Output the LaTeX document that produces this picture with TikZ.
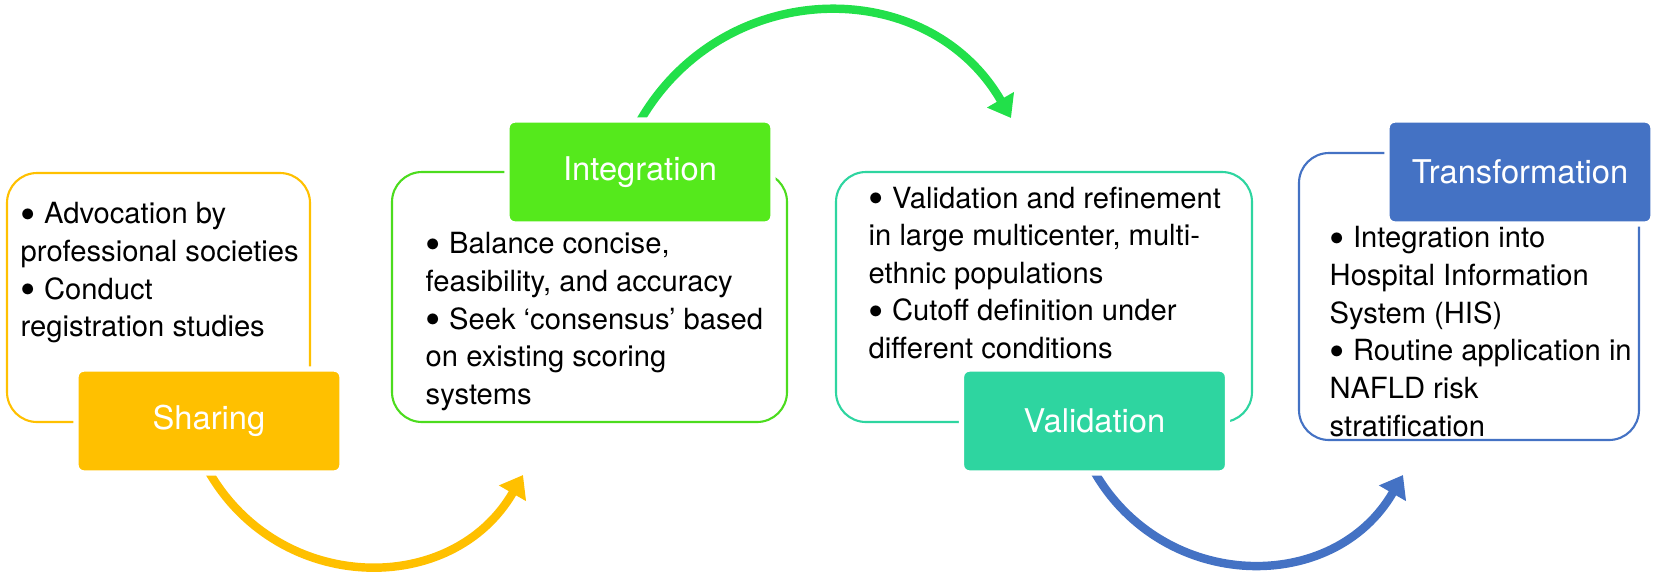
\documentclass[tikz,border=0pt]{standalone}
\usepackage{fontspec}
\usepackage{graphicx}
\setmainfont{TeX Gyre Heros}
\usetikzlibrary{arrows.meta}
\definecolor{sharecol}{HTML}{FFC000}
\definecolor{intcol}{HTML}{55E91C}
\definecolor{intline}{HTML}{4CDC1E}
\definecolor{arcgreen}{HTML}{22E04A}
\definecolor{valcol}{HTML}{2ED5A0}
\definecolor{transcol}{HTML}{4472C4}
\newcommand{\dotmark}{\raisebox{-0.18em}{\scalebox{1.5}{•}}}
\begin{document}
\begin{tikzpicture}[
    frame/.style={draw=#1, line width=0.6pt, rounded corners=0.3cm, fill=white},
    tag/.style={fill=#1, draw=white, line width=1.5pt, rounded corners=0.08cm,
      minimum width=2.66cm, minimum height=1.04cm, text=white,
      font=\fontsize{9.3}{11}\selectfont},
    body/.style={anchor=north west, align=left, inner sep=0pt,
      font=\fontsize{8.3}{10.7}\selectfont},
    flow/.style={line width=2.4pt, -{Triangle[length=6pt,width=8.5pt]}, looseness=1.15}]
  \useasboundingbox (0,0) rectangle (16.56,5.76);
  \path
    (2.09,1.04) coordinate (shareout)
    (5.23,1.01) coordinate (intin)
    (6.40,4.55) coordinate (intout)
    (10.11,4.58) coordinate (valin)
    (10.945,1.04) coordinate (valout)
    (14.03,1.01) coordinate (transin);
  \begin{scope}[flow]
    \draw[sharecol] (shareout) to[out=-60, in=-120] (intin);
    \draw[arcgreen] (intout) to[out=60, in=120] (valin);
    \draw[transcol] (valout) to[out=-60, in=-120] (transin);
  \end{scope}
  \draw
    (1.585,2.785) node[frame=sharecol, minimum width=3.03cm, minimum height=2.49cm] (share){}
    (5.895,2.79) node[frame=intline, minimum width=3.95cm, minimum height=2.50cm] (int){}
    (10.44,2.79) node[frame=valcol, minimum width=4.16cm, minimum height=2.50cm] (val){}
    (14.69,2.795) node[frame=transcol, minimum width=3.40cm, minimum height=2.87cm] (trans){};
  \draw
    (0.20,3.74) node[body] (sharetext){\dotmark{} Advocation by\\professional societies\\\dotmark{} Conduct\\registration studies}
    (4.25,3.44) node[body] (inttext){\dotmark{} Balance concise,\\feasibility, and accuracy\\\dotmark{} Seek ‘consensus’ based\\on existing scoring\\systems}
    (8.68,3.90) node[body] (valtext){\dotmark{} Validation and refinement\\in large multicenter, multi-\\ethnic populations\\\dotmark{} Cutoff definition under\\different conditions}
    (13.29,3.50) node[body] (transtext){\dotmark{} Integration into\\Hospital Information\\System (HIS)\\\dotmark{} Routine application in\\NAFLD risk\\stratification};
  \draw
    (2.09,1.55) node[tag=sharecol] (sharetag){Sharing}
    (6.40,4.04) node[tag=intcol] (inttag){Integration}
    (10.945,1.55) node[tag=valcol] (valtag){Validation}
    (15.20,4.04) node[tag=transcol] (transtag){Transformation};
\end{tikzpicture}
\end{document}
